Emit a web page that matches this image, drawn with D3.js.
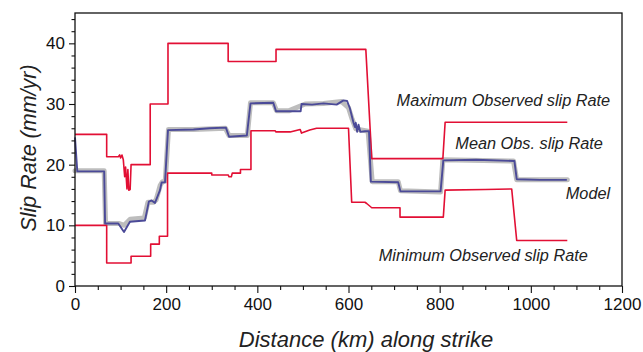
<!DOCTYPE html>
<html>
<head>
<meta charset="utf-8">
<script src="https://cdn.jsdelivr.net/npm/d3@7"></script>
<style>
  html, body { margin: 0; padding: 0; background: #fff; }
  svg { display: block; font-family: "Liberation Sans", Arial, Helvetica, sans-serif; }
</style>
</head>
<body>
<svg id="chart" width="643" height="352"></svg>
<script>
// Slip rate along strike: [distance km, rate mm/yr]
const maxObserved = [
  [0, 25], [69.5, 25], [69.5, 21.3], [95, 21.3], [98, 21.6], [100, 21.1], [103, 21.6],
  [106, 20.8], [109, 18], [111, 19.6], [114, 16], [116, 19.2], [118, 15.8], [121, 15.9],
  [123, 20], [165, 20], [165, 30], [204, 30], [204, 40], [336, 40], [336, 37],
  [441, 37], [441, 39], [638, 39], [651, 21], [807, 21], [812, 27], [1080, 27]
];

const minObserved = [
  [0, 10], [69.5, 10], [69.5, 3.8], [123, 3.8], [123, 4.9], [166, 4.9], [166, 6.9],
  [185, 6.9], [185, 8.2], [203, 8.2], [203, 18.6], [300, 18.6], [300, 18.3], [336, 18.3],
  [338, 18.0], [343, 18.0], [345, 18.6], [363, 18.6], [363, 19.2], [386, 19.2],
  [386, 25.6], [439, 25.6], [441, 25.4], [472, 25.4], [494, 25.8], [497, 25.2],
  [515, 25.7], [530, 26.0], [600, 26.0], [607, 13.8], [636, 13.8], [640, 13.6],
  [651, 12.9], [713, 12.9], [713, 11.35], [808, 11.35], [812, 15.8], [900, 15.9],
  [958, 16.0], [969, 7.5], [1080, 7.5]
];

const meanObserved = [
  [0, 24.5], [5, 18.9], [64, 18.9], [66, 10.3], [95, 10.3], [107.5, 8.9], [120.5, 10.6],
  [153.5, 10.8], [162, 13.9], [168, 14.1], [175.5, 13.7], [186.5, 15.8], [190, 17.05],
  [197.5, 17.1], [204, 25.7], [260, 25.8], [295, 26.0], [331, 26.1], [338, 24.6],
  [377, 24.8], [385, 30.1], [435, 30.2], [441, 28.8], [495, 28.8], [497, 30.0],
  [520, 29.9], [545, 30.1], [574, 29.9], [589, 30.6], [597, 30.5], [603, 29.3],
  [611, 26.9], [614, 26.2], [616, 26.9], [619, 25.4], [622, 26.6], [626, 25.4],
  [636, 25.5], [645, 25.5], [649, 17.2], [709, 17.1], [714, 15.6], [802, 15.6],
  [808, 20.7], [880, 20.8], [964, 20.6], [969, 17.6], [1020, 17.5], [1079, 17.5]
];

const model = [
  [0, 19], [64, 19], [67, 10.3], [97, 10.3], [108, 10.0], [121, 11.0], [152, 11.2],
  [160, 13.8], [172, 13.8], [178, 14.2], [187, 16.6], [192, 17.2], [198, 17.3],
  [205, 25.8], [260, 25.8], [330, 26.0], [338, 24.8], [378, 24.8], [385, 30.2],
  [435, 30.2], [442, 28.9], [470, 28.9], [505, 30.0], [545, 30.1], [585, 30.4],
  [600, 29.4], [608, 27.5], [616, 25.9], [643, 25.5], [652, 17.2], [709, 17.2],
  [714, 15.7], [802, 15.5], [807, 20.8], [962, 20.6], [969, 17.5], [1080, 17.5]
];

const xTicks = [0, 200, 400, 600, 800, 1000, 1200];
const yTicks = [0, 10, 20, 30, 40];

// label anchors: right end in km, baseline in mm/yr
const seriesLabels = [
  { text: "Maximum Observed slip Rate", x: 1174, y: 29.7 },
  { text: "Mean Obs. slip Rate", x: 1158, y: 22.6 },
  { text: "Model", x: 1174, y: 14.4 },
  { text: "Minimum Observed slip Rate", x: 1125, y: 4.1 }
];

const svg = d3.select("#chart");
const margin = { left: 75, right: 21, top: 13, bottom: 66 };
const W = 643, H = 352;

const x = d3.scaleLinear().domain([0, 1200]).range([margin.left, W - margin.right]);
const y = d3.scaleLinear().domain([0, 45]).range([H - margin.bottom, margin.top]);

const red = "#e20f34";
const navy = "#4b4a98";
const grey = "#bdbdbd";

const line = d3.line().x(d => x(d[0])).y(d => y(d[1]));

// series
svg.append("path").datum(model)
  .attr("d", line).attr("fill", "none").attr("stroke", grey)
  .attr("stroke-width", 5).attr("stroke-linejoin", "round").attr("stroke-linecap", "round");

[maxObserved, minObserved].forEach(s => {
  svg.append("path").datum(s)
    .attr("d", line).attr("fill", "none").attr("stroke", red)
    .attr("stroke-width", 1.6).attr("stroke-linejoin", "round");
});

svg.append("path").datum(meanObserved)
  .attr("d", line).attr("fill", "none").attr("stroke", navy)
  .attr("stroke-width", 1.9).attr("stroke-linejoin", "round");

// frame
svg.append("rect")
  .attr("x", x(0)).attr("y", y(45))
  .attr("width", x(1200) - x(0)).attr("height", y(0) - y(45))
  .attr("fill", "none").attr("stroke", "#111").attr("stroke-width", 1.3);

// bottom axis: major + minor ticks
svg.append("g").attr("transform", `translate(0,${y(0)})`)
  .call(d3.axisBottom(x).tickValues(xTicks).tickSize(7).tickPadding(5).tickFormat(d3.format("d")));
svg.append("g").attr("transform", `translate(0,${y(0)})`)
  .call(d3.axisBottom(x).tickValues(d3.range(50, 1200, 50).filter(v => v % 200)).tickSize(4).tickFormat(""));

// left axis: major + minor ticks
svg.append("g").attr("transform", `translate(${x(0)},0)`)
  .call(d3.axisLeft(y).tickValues(yTicks).tickSize(6).tickPadding(4));
svg.append("g").attr("transform", `translate(${x(0)},0)`)
  .call(d3.axisLeft(y).tickValues(d3.range(2, 46, 2).filter(v => v % 10)).tickSize(3.5).tickFormat(""));

svg.selectAll(".domain").remove();
svg.selectAll(".tick line").attr("stroke", "#111").attr("stroke-width", 1.1);
svg.selectAll(".tick text").attr("fill", "#111").style("font-size", "17px");

// titles
svg.append("text")
  .attr("x", 366).attr("y", 347)
  .attr("text-anchor", "middle")
  .style("font-size", "22px").style("font-style", "italic").attr("fill", "#222")
  .text("Distance (km) along strike");

svg.append("text")
  .attr("transform", `translate(36,${148}) rotate(-90)`)
  .attr("text-anchor", "middle")
  .style("font-size", "21.5px").style("font-style", "italic").attr("fill", "#222")
  .text("Slip Rate (mm/yr)");

// series labels
svg.selectAll(".slabel").data(seriesLabels).enter().append("text")
  .attr("class", "slabel")
  .attr("x", d => x(d.x)).attr("y", d => y(d.y))
  .attr("text-anchor", "end")
  .style("font-size", "16.3px").style("font-style", "italic").attr("fill", "#222")
  .text(d => d.text);
</script>
</body>
</html>
